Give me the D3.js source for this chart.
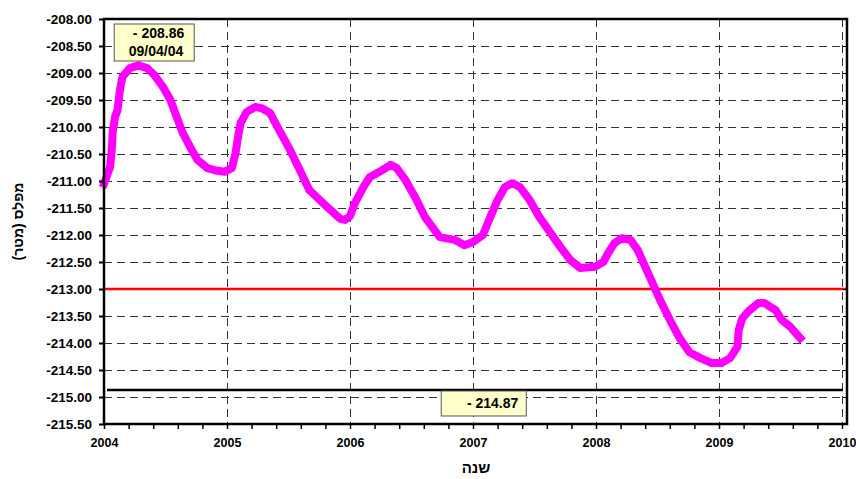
<!DOCTYPE html>
<html>
<head>
<meta charset="utf-8">
<script src="https://cdn.jsdelivr.net/npm/d3@7"></script>
<style>
body { margin: 0; background: #fff; }
text { font-family: "Liberation Sans", Arial, sans-serif; font-weight: bold; }
</style>
</head>
<body>
<svg id="chart" width="856" height="479"></svg>
<script>
// water level, decimal year -> metres
var years = [2004.00,2004.05,2004.065,2004.07,2004.09,2004.11,2004.13,2004.15,2004.21,2004.28,
	2004.35,2004.41,2004.48,2004.54,2004.59,2004.64,2004.70,2004.76,2004.84,2004.90,2004.98,
	2005.04,2005.07,2005.09,2005.11,2005.16,2005.23,2005.28,2005.35,2005.41,2005.50,2005.58,2005.67,
	2005.80,2005.92,2005.96,2006.00,2006.04,2006.11,2006.16,2006.24,2006.33,2006.38,2006.45,2006.53,
	2006.61,2006.73,2006.85,2006.93,2007.00,2007.08,2007.14,2007.20,2007.26,2007.32,2007.38,2007.46,
	2007.54,2007.63,2007.71,2007.79,2007.87,2007.99,2008.06,2008.10,2008.15,2008.21,2008.28,2008.34,
	2008.40,2008.46,2008.52,2008.60,2008.68,2008.76,2008.85,2008.94,2009.02,2009.09,2009.15,2009.16,
	2009.19,2009.25,2009.32,2009.37,2009.46,2009.51,2009.58,2009.66];
var levels = [-211.05,-210.74,-210.37,-210.11,-209.81,-209.69,-209.31,-209.07,-208.91,-208.86,
	-208.91,-209.04,-209.26,-209.50,-209.81,-210.11,-210.37,-210.61,-210.76,-210.80,-210.83,
	-210.76,-210.48,-210.18,-209.93,-209.72,-209.63,-209.65,-209.74,-210.00,-210.37,-210.74,-211.17,
	-211.45,-211.70,-211.72,-211.65,-211.41,-211.11,-210.93,-210.83,-210.70,-210.76,-210.98,-211.30,
	-211.67,-212.04,-212.09,-212.19,-212.13,-212.00,-211.67,-211.35,-211.11,-211.04,-211.11,-211.35,
	-211.67,-211.96,-212.22,-212.46,-212.61,-212.59,-212.50,-212.33,-212.15,-212.06,-212.09,-212.28,
	-212.59,-212.89,-213.20,-213.57,-213.91,-214.17,-214.28,-214.37,-214.37,-214.28,-214.07,-213.76,
	-213.54,-213.39,-213.26,-213.26,-213.39,-213.57,-213.70,-213.91];

var yTicks = d3.range(-208, -215.51, -0.5);
var yearTicks = [2004, 2005, 2006, 2007, 2008, 2009, 2010];
var minorTicks = d3.range(0, 31).map(i => 2004 + i * 0.2);

var redLine = -213.00;
var blackLine = -214.87;
var peakValue = -208.86, peakDate = '09/04/04', peakYear = 2004.27;

var svg = d3.select('#chart');
var pLeft = 104, pRight = 847, pTop = 19, pBottom = 424;

var x = d3.scaleLinear().domain([2004, 2010]).range([pLeft, 842]);
var y = d3.scaleLinear().domain([-208, -215.5]).range([pTop, pBottom]);

// grid
svg.append('g').selectAll('line').data(yTicks.slice(1, -1)).enter().append('line')
	.attr('x1', pLeft).attr('x2', pRight)
	.attr('y1', d => y(d) + 0.5).attr('y2', d => y(d) + 0.5)
	.attr('stroke', '#333').attr('stroke-dasharray', '8,5');
svg.append('g').selectAll('line').data(yearTicks.slice(1)).enter().append('line')
	.attr('x1', d => x(d) + 0.5).attr('x2', d => x(d) + 0.5)
	.attr('y1', pTop).attr('y2', pBottom)
	.attr('stroke', '#333').attr('stroke-dasharray', '8,5');

// red and black reference lines
svg.append('line')
	.attr('x1', pLeft).attr('x2', pRight)
	.attr('y1', y(redLine)).attr('y2', y(redLine))
	.attr('stroke', '#ff0000').attr('stroke-width', 2.5);
svg.append('line')
	.attr('x1', pLeft + 3).attr('x2', x(2010) + 1)
	.attr('y1', y(blackLine)).attr('y2', y(blackLine))
	.attr('stroke', '#000').attr('stroke-width', 2.5);

// level curve
var data = years.map((t, i) => [t, levels[i]]);
var line = d3.line()
	.x(d => x(d[0]))
	.y(d => y(d[1]));
svg.append('path').datum(data)
	.attr('d', line)
	.attr('fill', 'none')
	.attr('stroke', '#ff00ff')
	.attr('stroke-width', 8)
	.attr('stroke-linejoin', 'round')
	.attr('stroke-linecap', 'square');

// frame
svg.append('rect')
	.attr('x', pLeft).attr('y', pTop)
	.attr('width', pRight - pLeft).attr('height', pBottom - pTop)
	.attr('fill', 'none').attr('stroke', '#000').attr('stroke-width', 2.5);

// axes
var yAxis = svg.append('g').attr('transform', 'translate(' + pLeft + ',0)')
	.call(d3.axisLeft(y).tickValues(yTicks).tickFormat(d => d.toFixed(2)).tickSize(5).tickPadding(7));
yAxis.select('.domain').remove();
yAxis.selectAll('line').attr('stroke', '#000').attr('stroke-width', 2);
yAxis.selectAll('text').attr('font-size', 13.5).attr('fill', '#000')
	.style('font-family', '"Liberation Sans", Arial, sans-serif').style('font-weight', 'bold');

var yAxisR = svg.append('g').attr('transform', 'translate(' + pRight + ',0)')
	.call(d3.axisLeft(y).tickValues(yTicks).tickFormat('').tickSize(4));
yAxisR.select('.domain').remove();
yAxisR.selectAll('line').attr('stroke', '#000');

var xAxis = svg.append('g').attr('transform', 'translate(0,' + pBottom + ')')
	.call(d3.axisBottom(x).tickValues(minorTicks)
		.tickFormat(d => Math.abs(d - Math.round(d)) < 1e-6 ? Math.round(d) : '')
		.tickSize(5).tickPadding(9));
xAxis.select('.domain').remove();
xAxis.selectAll('line').attr('stroke', '#000').attr('stroke-width', 1.5);
xAxis.selectAll('text').attr('font-size', 12.5).attr('fill', '#000')
	.style('font-family', '"Liberation Sans", Arial, sans-serif').style('font-weight', 'bold');

// axis titles
svg.append('text')
	.attr('transform', 'translate(23,' + y(-211.75) + ') rotate(-90)')
	.attr('text-anchor', 'middle')
	.attr('font-size', 14)
	.text('מפלס (מטר)');
svg.append('text')
	.attr('x', x(2007) + 3).attr('y', 473)
	.attr('text-anchor', 'middle')
	.attr('font-size', 15)
	.text('שנה');

// annotations
var px = x(peakYear);
var peak = svg.append('g').attr('transform', 'translate(' + (px - 23) + ',' + (pTop + 5) + ')');
peak.append('rect').attr('width', 80).attr('height', 37)
	.attr('fill', '#ffffcc').attr('stroke', '#555').attr('stroke-width', 1);
peak.append('text').attr('x', 70).attr('y', 14).attr('text-anchor', 'end')
	.attr('font-size', 14).text('- ' + Math.abs(peakValue).toFixed(2));
peak.append('text').attr('x', 69).attr('y', 32).attr('text-anchor', 'end')
	.attr('font-size', 14).text(peakDate);

var low = svg.append('g').attr('transform', 'translate(' + (x(2006.75) - 1) + ',' + (y(blackLine) + 1) + ')');
low.append('rect').attr('width', 85).attr('height', 25)
	.attr('fill', '#ffffcc').attr('stroke', '#555').attr('stroke-width', 1);
low.append('text').attr('x', 77).attr('y', 17).attr('text-anchor', 'end')
	.attr('font-size', 14).text('- ' + Math.abs(blackLine).toFixed(2));
</script>
</body>
</html>
